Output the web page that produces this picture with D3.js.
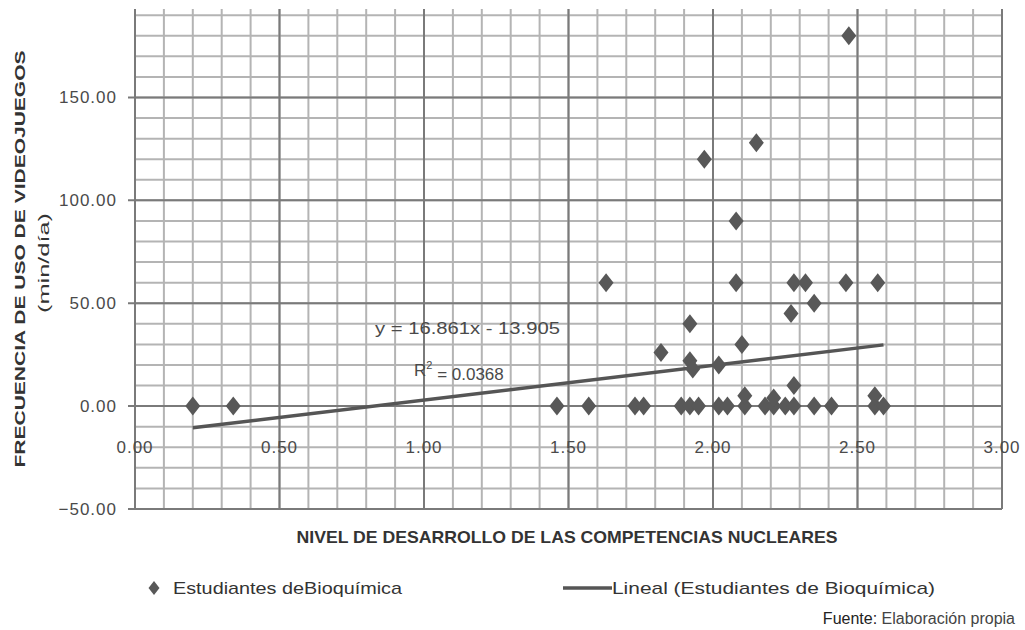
<!DOCTYPE html>
<html><head><meta charset="utf-8">
<script src="https://cdn.jsdelivr.net/npm/d3@7/dist/d3.min.js"></script>
<style>body{margin:0;background:#fff}svg{display:block}</style>
</head><body>
<svg id="c" width="1025" height="630"></svg>
<script>
// data (x: nivel de desarrollo, y: min/día)
const xValues = [0.20,0.34,1.46,1.57,1.73,1.76,1.63,1.82,1.92,1.92,1.93,1.97,1.89,1.92,1.95,2.02,2.02,2.05,2.08,2.08,2.10,2.11,2.11,2.15,2.18,2.21,2.21,2.25,2.27,2.28,2.28,2.28,2.32,2.35,2.35,2.41,2.47,2.46,2.57,2.56,2.56,2.59];
const yValues = [0,0,0,0,0,0,60,26,40,22,18,120,0,0,0,20,0,0,90,60,30,0,5,128,0,0,4,0,45,60,10,0,60,50,0,0,180,60,60,0,5,0];
const xTicks = [0,0.5,1,1.5,2,2.5,3];
const yTicks = [-50,0,50,100,150];
const trendSlope = 16.861, trendIntercept = -13.905;
const eqLabel = "y = 16.861x - 13.905";
const r2Label = "0.0368";
const xTitle = "NIVEL DE DESARROLLO DE LAS COMPETENCIAS NUCLEARES";
const yTitle1 = "FRECUENCIA DE USO DE VIDEOJUEGOS";
const yTitle2 = "(min/día)";
const legendSeries = "Estudiantes deBioquímica";
const legendTrend = "Lineal (Estudiantes de Bioquímica)";

const svg = d3.select("#c");
const x = d3.scaleLinear().domain([0,3]).range([135,1002]);
const y = d3.scaleLinear().domain([-50,193]).range([509,9]);
const ink = "#4a4a4a";
const minor = "#b4b4b4", major = "#7a7a7a";

const g = svg.append("g");
// minor grid
const xMinor = d3.range(0, 3.0001, 0.1);
const yMinor = d3.range(-50, 191, 10);
g.selectAll(".vm").data(xMinor).join("line")
  .attr("x1", d=>x(d)).attr("x2", d=>x(d)).attr("y1", y(193)).attr("y2", y(-50))
  .attr("stroke", minor).attr("stroke-width", 2);
g.selectAll(".hm").data(yMinor).join("line")
  .attr("x1", x(0)).attr("x2", x(3)).attr("y1", d=>y(d)).attr("y2", d=>y(d))
  .attr("stroke", minor).attr("stroke-width", 2);
// major grid
g.selectAll(".vM").data(xTicks).join("line")
  .attr("x1", d=>x(d)).attr("x2", d=>x(d)).attr("y1", y(193)).attr("y2", y(-50))
  .attr("stroke", major).attr("stroke-width", 2);
g.selectAll(".hM").data(yTicks).join("line")
  .attr("x1", x(0)-7).attr("x2", x(3)).attr("y1", d=>y(d)).attr("y2", d=>y(d))
  .attr("stroke", major).attr("stroke-width", 2);

// y tick labels
g.selectAll(".yl").data(yTicks).join("text")
  .attr("x", 117).attr("y", d=>y(d)).attr("dy","0.35em")
  .attr("text-anchor","end").attr("fill", ink)
  .style("font-family","Liberation Sans, Arial, sans-serif").style("font-size","17px")
  .style("letter-spacing","1px")
  .text(d=>d3.format(".2f")(d));
// x tick labels
g.selectAll(".xl").data(xTicks).join("text")
  .attr("x", d=>x(d)).attr("y", y(-20)).attr("dy","0.35em")
  .attr("text-anchor","middle").attr("fill", ink)
  .style("font-family","Liberation Sans, Arial, sans-serif").style("font-size","17px")
  .style("letter-spacing","1px")
  .text(d=>d3.format(".2f")(d));

// trendline
const xmin = d3.min(xValues), xmax = d3.max(xValues);
g.append("line")
  .attr("x1", x(xmin)).attr("y1", y(trendSlope*xmin+trendIntercept))
  .attr("x2", x(xmax)).attr("y2", y(trendSlope*xmax+trendIntercept))
  .attr("stroke", "#555").attr("stroke-width", 3.5);

// points
const diamond = "M0,-9.5 L7.5,0 L0,9.5 L-7.5,0 Z";
g.selectAll(".pt").data(xValues.map((v,i)=>[v,yValues[i]])).join("path")
  .attr("d", diamond)
  .attr("transform", d=>`translate(${x(d[0])},${y(d[1])})`)
  .attr("fill", "#585858");

// equation labels
g.append("text").attr("x", 375).attr("y", 328).attr("dy","0.35em")
  .attr("fill", ink).attr("textLength", 185).attr("lengthAdjust","spacingAndGlyphs")
  .style("font-family","Liberation Sans, Arial, sans-serif").style("font-size","17px")
  .text(eqLabel);
const r2 = g.append("text").attr("x", 414).attr("y", 370).attr("dy","0.35em")
  .attr("fill", ink)
  .style("font-family","Liberation Sans, Arial, sans-serif").style("font-size","17px");
r2.append("tspan").text("R");
r2.append("tspan").attr("dy","-0.6em").style("font-size","11px").text("2");
r2.append("tspan").attr("dy","0.6em").text(" = " + r2Label);

// axis titles
svg.append("text").attr("x", 567).attr("y", 537).attr("dy","0.35em")
  .attr("text-anchor","middle").attr("fill","#333")
  .attr("textLength", 541).attr("lengthAdjust","spacingAndGlyphs")
  .style("font-family","Liberation Sans Narrow, Liberation Sans, sans-serif").style("font-size","17px").style("font-weight","bold")
  .text(xTitle);
svg.append("text").attr("transform","translate(20,259) rotate(-90)").attr("dy","0.35em")
  .attr("text-anchor","middle").attr("fill","#333")
  .attr("textLength", 417).attr("lengthAdjust","spacingAndGlyphs")
  .style("font-family","Liberation Sans, sans-serif").style("font-size","15px").style("font-weight","bold")
  .text(yTitle1);
svg.append("text").attr("transform","translate(44,263) rotate(-90)").attr("dy","0.35em")
  .attr("text-anchor","middle").attr("fill","#333")
  .attr("textLength", 100).attr("lengthAdjust","spacingAndGlyphs")
  .style("font-family","Liberation Sans, sans-serif").style("font-size","15px")
  .text(yTitle2);

// legend
svg.append("path").attr("d", "M0,-7 L5.5,0 L0,7 L-5.5,0 Z")
  .attr("transform","translate(154,588)").attr("fill","#585858");
svg.append("text").attr("x",173).attr("y",588).attr("dy","0.35em").attr("fill","#333")
  .attr("textLength", 229).attr("lengthAdjust","spacingAndGlyphs")
  .style("font-family","Liberation Sans, sans-serif").style("font-size","17px")
  .text(legendSeries);
svg.append("line").attr("x1",563).attr("x2",612).attr("y1",588).attr("y2",588)
  .attr("stroke","#555").attr("stroke-width",3.5);
svg.append("text").attr("x",612).attr("y",588).attr("dy","0.35em").attr("fill","#333")
  .attr("textLength", 323).attr("lengthAdjust","spacingAndGlyphs")
  .style("font-family","Liberation Sans, sans-serif").style("font-size","17px")
  .text(legendTrend);

// source
const src = svg.append("text").attr("x",1015).attr("y",618).attr("dy","0.35em")
  .attr("text-anchor","end")
  .style("font-family","Liberation Sans, Arial, sans-serif").style("font-size","16px");
src.append("tspan").attr("fill","#222").text("Fuente:");
src.append("tspan").attr("fill","#444").text(" Elaboración propia");
</script>
</body></html>
